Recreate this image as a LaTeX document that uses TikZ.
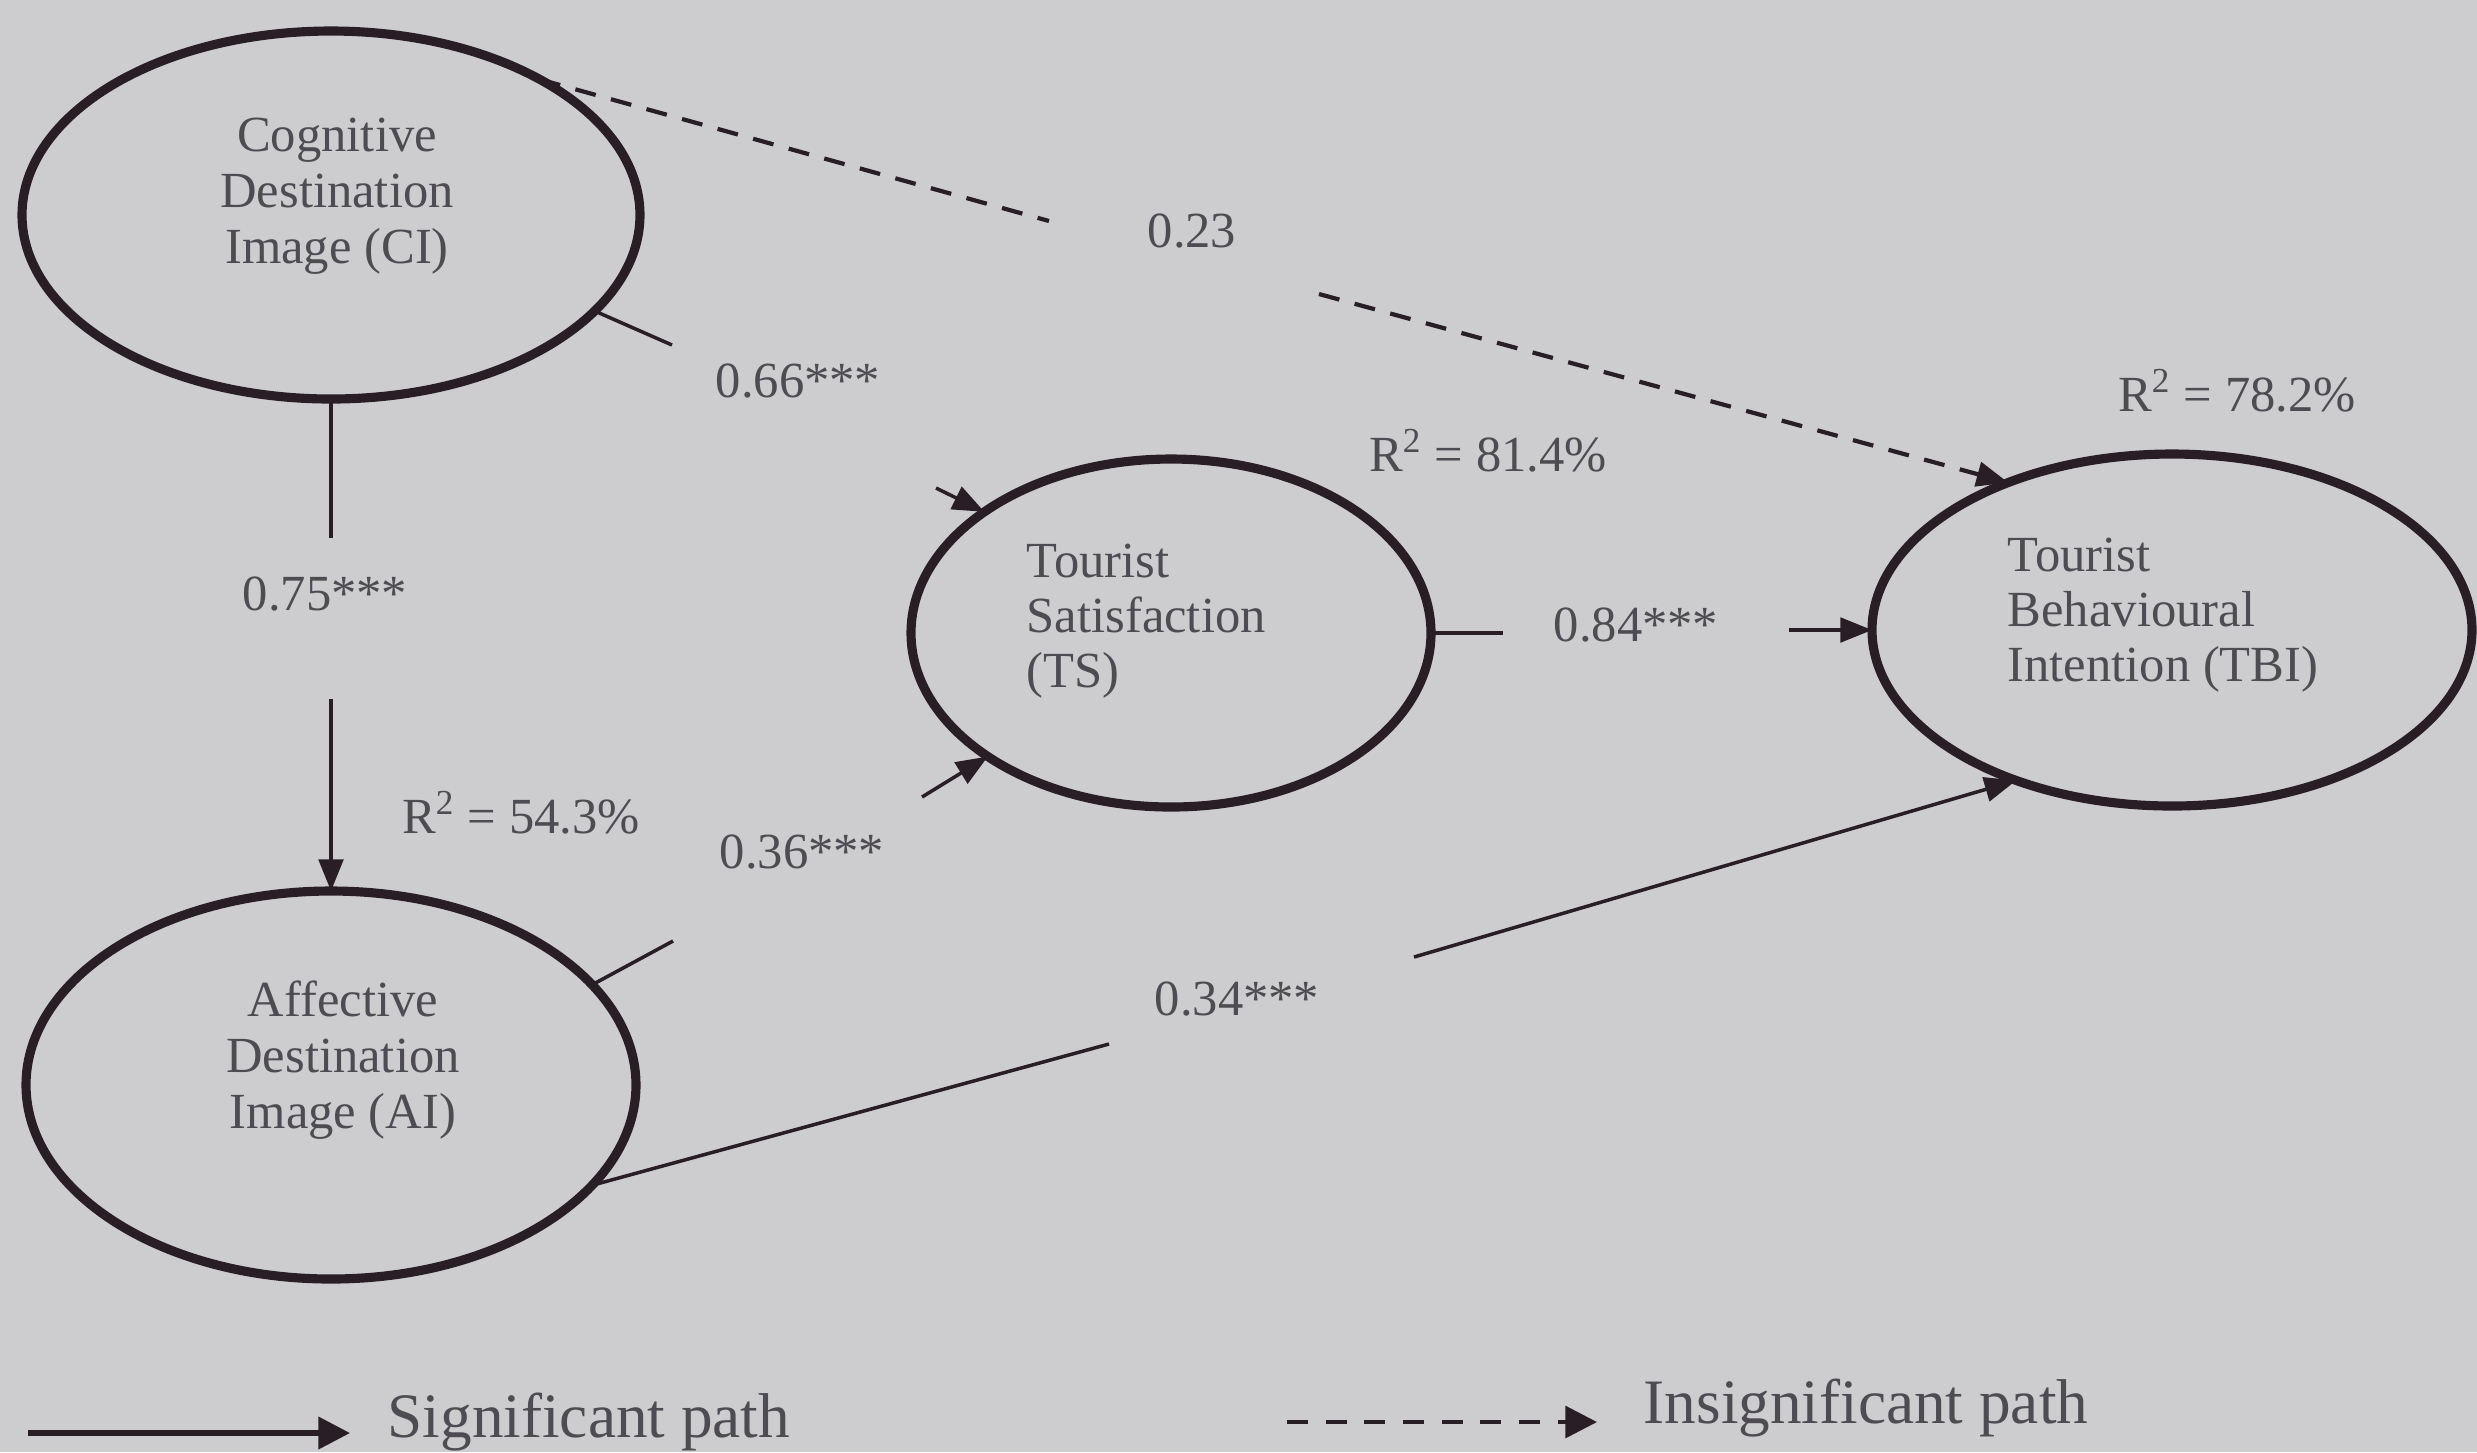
\documentclass[tikz,border=0pt]{standalone}
\usepackage{fontspec}
\setmainfont{Liberation Serif}
\usetikzlibrary{arrows.meta,shapes.geometric}
\definecolor{bgc}{RGB}{205,205,208}
\definecolor{txt}{RGB}{78,76,82}
\definecolor{ink}{RGB}{42,30,38}
\begin{document}
\begin{tikzpicture}[x=0.1mm,y=-0.1mm,
  lat/.style={ellipse,draw=ink,line width=2.6pt,inner sep=0pt,outer sep=0pt},
  lbl/.style={text=txt,font=\fontsize{14.4}{16}\selectfont,inner sep=0pt,anchor=base},
  ctext/.style={text=txt,font=\fontsize{14.4}{15.9}\selectfont,inner sep=0pt,align=center},
  ltext/.style={text=txt,font=\fontsize{14.4}{15.6}\selectfont,inner sep=0pt,align=left,anchor=west},
  legtext/.style={text=txt,font=\fontsize{18}{20}\selectfont,inner sep=0pt,anchor=base west},
  tip/.style={-{Triangle[length=9pt,width=7pt]}},
  sigline/.style={draw=ink,line width=1pt},
  insigline/.style={draw=ink,line width=1.2pt,dash pattern=on 6pt off 4.5pt},
]
% canvas
\fill[bgc] (0,0) rectangle (2477,1452);
\useasboundingbox (0,0) rectangle (2477,1452);

% latent variables
\node[lat,minimum width=61.8mm,minimum height=36.8mm] (ci) at (331,215) {};
\node[lat,minimum width=61mm,minimum height=38.8mm] (ai) at (331,1085) {};
\node[lat,minimum width=52mm,minimum height=34.8mm] (ts) at (1171,633) {};
\node[lat,minimum width=60mm,minimum height=35.2mm] (tbi) at (2172,630) {};

% texts inside
\node[ctext] (cit) at (337,196) {Cognitive\\Destination\\Image (CI)};
\node[ctext] (ait) at (343,1060) {Affective\\Destination\\Image (AI)};
\node[ltext] (tst) at (1026,621) {Tourist\\Satisfaction\\(TS)};
\node[ltext] (tbit) at (2007,615) {Tourist\\Behavioural\\Intention (TBI)};

% labels
\node[lbl] (l023) at (1192,247) {0.23};
\node[lbl] (l066) at (798,397) {0.66***};
\node[lbl] (l075) at (325,610) {0.75***};
\node[lbl] (r543) at (521,833) {R\textsuperscript{2} = 54.3\%};
\node[lbl] (l036) at (802,868) {0.36***};
\node[lbl] (r814) at (1488,471) {R\textsuperscript{2} = 81.4\%};
\node[lbl] (r782) at (2237,411) {R\textsuperscript{2} = 78.2\%};
\node[lbl] (l084) at (1636,641) {0.84***};
\node[lbl] (l034) at (1237,1015) {0.34***};

% gap coordinates
\coordinate (d1) at (1049,221);
\coordinate (d2) at (1319,294);
\coordinate (g2a) at (672,345);
\coordinate (g2b) at (936,488);
\coordinate (g3a) at (673,941);
\coordinate (g3b) at (922,797);
\coordinate (g4a) at (331,538);
\coordinate (g4b) at (331,699);
\coordinate (g5a) at (1503,633);
\coordinate (g5b) at (1789,630);
\coordinate (g6a) at (1109,1044);
\coordinate (g6b) at (1414,957);

% CI -> TBI (insignificant)
\draw[insigline] (ci.33) -- (d1);
\draw[insigline,tip] (d2) -- (tbi.138);
% CI -> TS
\draw[sigline] (ci.-20) -- (g2a);
\draw[sigline,tip] (g2b) -- (ts.147);
% AI -> TS
\draw[sigline] (ai.21) -- (g3a);
\draw[sigline,tip] (g3b) -- (ts.214);
% CI -> AI
\draw[sigline] (ci.south) -- (g4a);
\draw[sigline,tip] (g4b) -- (ai.north);
% TS -> TBI
\draw[sigline] (ts.east) -- (g5a);
\draw[sigline,tip] (g5b) -- (tbi.west);
% AI -> TBI
\draw[sigline] (ai.-21) -- (g6a);
\draw[sigline,tip] (g6b) -- (tbi.224);

% legend
\coordinate (lsa) at (28,1433);
\coordinate (lse) at (350,1433);
\node[legtext] (lsig) at (387,1437) {Significant path};
\draw[draw=ink,line width=1.5pt,-{Triangle[length=9pt,width=9pt]}] (lsa) -- (lse);
\coordinate (lia) at (1287,1422);
\coordinate (lie) at (1597,1422);
\node[legtext] (linsig) at (1643,1423) {Insignificant path};
\draw[draw=ink,line width=1.2pt,dash pattern=on 6pt off 5pt,-{Triangle[length=9pt,width=9pt]}] (lia) -- (lie);
\end{tikzpicture}
\end{document}
